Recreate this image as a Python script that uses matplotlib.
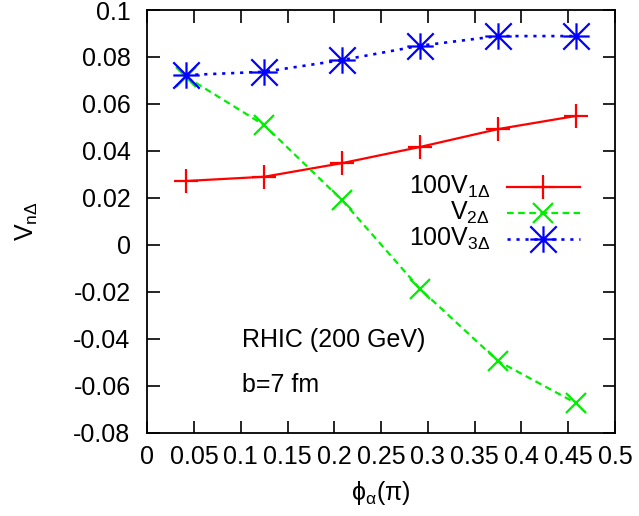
import matplotlib
matplotlib.use("Agg")
import matplotlib.pyplot as plt
from matplotlib.lines import Line2D
from matplotlib.path import Path

plt.rcParams['font.family'] = ['Liberation Sans', 'DejaVu Sans']
plt.rcParams['mathtext.fontset'] = 'custom'
plt.rcParams['mathtext.rm'] = 'Liberation Sans'
plt.rcParams['mathtext.it'] = 'Liberation Sans'
plt.rcParams['mathtext.default'] = 'regular'

phi = [0.0417, 0.125, 0.2083, 0.2917, 0.375, 0.4583]
v1 = [0.0272, 0.0290, 0.0348, 0.0417, 0.0493, 0.0549]
v2 = [0.0715, 0.0510, 0.0190, -0.0188, -0.0495, -0.0674]
v3 = [0.0723, 0.0737, 0.0787, 0.0848, 0.0889, 0.0889]

labels = [r'100V$_{1\Delta}$', r'V$_{2\Delta}$', r'100V$_{3\Delta}$']
xticks = [0, 0.05, 0.1, 0.15, 0.2, 0.25, 0.3, 0.35, 0.4, 0.45, 0.5]
xticklabels = ['0', '0.05', '0.1', '0.15', '0.2', '0.25', '0.3', '0.35', '0.4', '0.45', '0.5']
yticks = [-0.08, -0.06, -0.04, -0.02, 0, 0.02, 0.04, 0.06, 0.08, 0.1]
yticklabels = ['-0.08', '-0.06', '-0.04', '-0.02', '0', '0.02', '0.04', '0.06', '0.08', '0.1']

FS = 18
fig = plt.figure(figsize=(6.39, 5.16), dpi=100)
ax = fig.add_axes([0.2305, 0.1614, 0.9624 - 0.2305, 0.9806 - 0.1614])

star = Path([(-1, 0), (1, 0), (0, -1), (0, 1), (-1, -1), (1, 1), (-1, 1), (1, -1)],
            [Path.MOVETO, Path.LINETO] * 4)
styles = [
    dict(color='#ff0000', ls='-', marker='+', ms=17, mew=1.6, lw=1.6),
    dict(color='#00ee00', ls=(0, (3, 2)), marker='x', ms=15, mew=1.6, lw=1.6),
    dict(color='#0000ff', ls=(0, (1.2, 2.2)), marker=star, ms=19, mew=1.6, lw=1.9),
]
series = [v1, v2, v3]
for ys, st in zip(series, styles):
    ax.plot(phi, ys, **st)

ax.set_xlim(0, 0.5)
ax.set_ylim(-0.08, 0.1)
ax.set_xticks(xticks)
ax.set_xticklabels(xticklabels)
ax.set_yticks(yticks)
ax.set_yticklabels(yticklabels)
ax.tick_params(direction='in', length=9, width=1.2, top=True, right=True,
               labelsize=FS)
ax.tick_params(axis='x', pad=9)
ax.tick_params(axis='y', pad=12)
for s in ax.spines.values():
    s.set_linewidth(1.3)

ax.set_xlabel(r'$\phi_{\alpha}(\pi)$', fontsize=FS)
ax.set_ylabel(r'V$_{n\Delta}$', fontsize=FS)
ax.yaxis.set_label_coords(-0.23, 0.5)
ax.xaxis.set_label_coords(0.5, -0.11)

# legend (manual, gnuplot style: right-aligned text, sample on right)
rows = [0.581, 0.520, 0.458]
for lab, st, yy in zip(labels, styles, rows):
    ax.text(0.733, yy, lab, transform=ax.transAxes, ha='right', va='center', fontsize=FS)
    ax.add_line(Line2D([0.769, 0.925], [yy, yy], transform=ax.transAxes,
                       color=st['color'], ls=st['ls'], lw=st['lw']))
    ax.add_line(Line2D([0.846], [yy], transform=ax.transAxes, color=st['color'],
                       marker=st['marker'], ms=st['ms'], mew=st['mew'], ls='none'))

ax.text(0.2025, 0.2193, 'RHIC (200 GeV)', transform=ax.transAxes, ha='left', va='center', fontsize=FS)
ax.text(0.2025, 0.1128, 'b=7 fm', transform=ax.transAxes, ha='left', va='center', fontsize=FS)

fig.savefig('out.png', dpi=100)
